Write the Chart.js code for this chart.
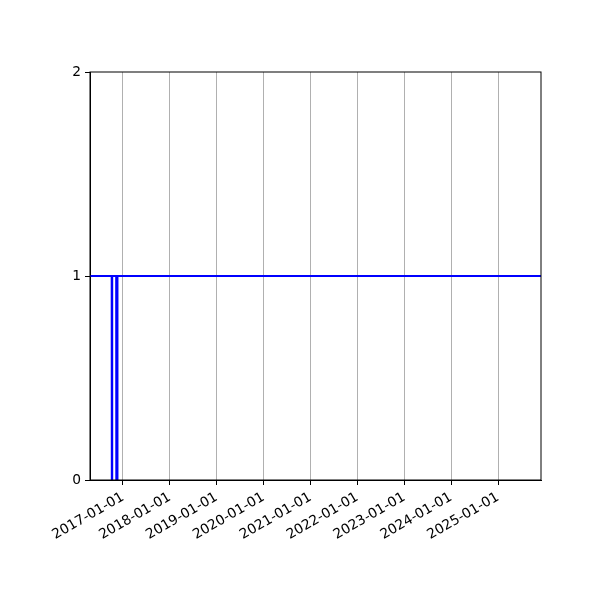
<!DOCTYPE html>
<html>
<head>
<meta charset="utf-8">
<script src="https://cdn.jsdelivr.net/npm/chart.js@4"></script>
<style>
  html, body { margin: 0; padding: 0; background: #fff; }
  #wrap { width: 600px; height: 600px; }
</style>
</head>
<body>
<div id="wrap"><canvas id="chart" width="600" height="600"></canvas></div>
<script>
// data (dates as ISO strings, values 0/1)
const dates = ['2016-04-19', '2016-10-05', '2016-10-06', '2016-10-08', '2016-10-09',
               '2016-11-09', '2016-11-10', '2016-11-18', '2016-11-19', '2025-12-02'];
const values = [1, 1, 0, 0, 1, 1, 0, 0, 1, 1];
const tickYears = [2017, 2018, 2019, 2020, 2021, 2022, 2023, 2024, 2025];
const yTicks = [0, 1, 2];
const xMinDate = '2016-04-19';
const xMaxDate = '2025-12-02';

const toMs = (d) => Date.parse(d + 'T00:00:00Z');
const points = dates.map((d, i) => ({ x: toMs(d), y: values[i] }));

// draw the top/right sides of the axes box like matplotlib
const frame = {
    id: 'frame',
    afterDraw(chart) {
        const { ctx, chartArea: a } = chart;
        ctx.save();
        ctx.strokeStyle = '#000';
        ctx.lineWidth = 1;
        ctx.strokeRect(a.left, a.top, a.right - a.left, a.bottom - a.top);
        ctx.restore();
    }
};

new Chart(document.getElementById('chart'), {
    type: 'line',
    data: {
        datasets: [{
            data: points,
            borderColor: '#0000ff',
            borderWidth: 2,
            pointRadius: 0,
            tension: 0,
            fill: false
        }]
    },
    options: {
        responsive: false,
        animation: false,
        layout: { padding: { top: 72, right: 59, left: 0, bottom: 0 } },
        plugins: { legend: { display: false }, tooltip: { enabled: false } },
        scales: {
            x: {
                type: 'linear',
                min: toMs(xMinDate),
                max: toMs(xMaxDate),
                afterBuildTicks: (axis) => {
                    axis.ticks = tickYears.map(y => ({ value: Date.UTC(y, 0, 1) }));
                },
                afterFit: (axis) => { axis.height = 120; },
                grid: {
                    color: '#b0b0b0',
                    lineWidth: 1,
                    tickColor: '#000',
                    tickLength: 5
                },
                border: { color: '#000', width: 1 },
                ticks: {
                    autoSkip: false,
                    minRotation: 30,
                    maxRotation: 30,
                    padding: 4,
                    color: '#000',
                    font: { family: 'DejaVu Sans', size: 13.8 },
                    callback: (v) => new Date(v).toISOString().slice(0, 10)
                }
            },
            y: {
                min: 0,
                max: 2,
                afterBuildTicks: (axis) => {
                    axis.ticks = yTicks.map(v => ({ value: v }));
                },
                afterFit: (axis) => { axis.width = 90; },
                grid: {
                    drawOnChartArea: false,
                    tickColor: '#000',
                    tickLength: 5
                },
                border: { color: '#000', width: 1 },
                ticks: {
                    padding: 4,
                    color: '#000',
                    font: { family: 'DejaVu Sans', size: 13.8 }
                }
            }
        }
    },
    plugins: [frame]
});
</script>
</body>
</html>
